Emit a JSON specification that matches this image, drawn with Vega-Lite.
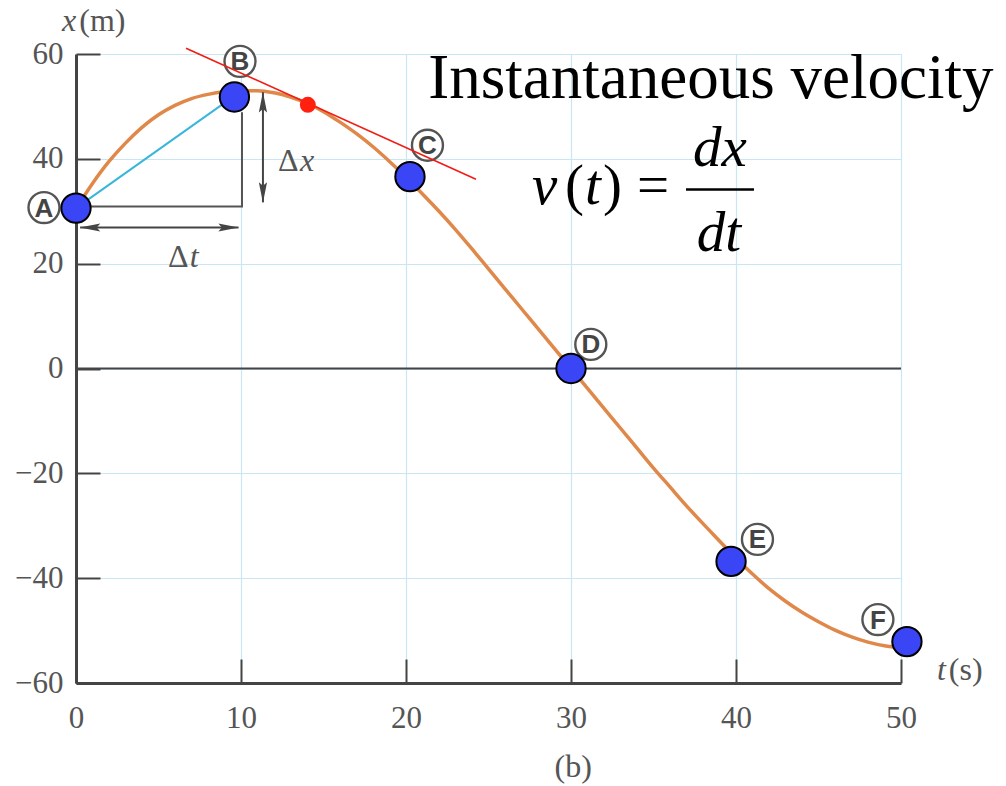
{
  "$schema": "https://vega.github.io/schema/vega-lite/v6.json",
  "width": 825,
  "height": 629,
  "autosize": {"type": "none"},
  "padding": {"left": 76, "top": 54, "right": 105, "bottom": 103},
  "background": "white",
  "config": {
    "view": {"stroke": null},
    "axis": {
      "title": null, "grid": true, "labelFlush": false, "labelOverlap": false,
      "gridColor": "#c9e6f4", "gridWidth": 1.2,
      "domainColor": "#444", "domainWidth": 3,
      "tickColor": "#444", "tickWidth": 2, "tickSize": -24,
      "labelFont": "Liberation Serif", "labelFontSize": 31, "labelColor": "#555"
    },
    "axisX": {"labelPadding": 44},
    "axisY": {"labelPadding": 37}
  },
  "layer": [
    {
      "data": {"values": [
        {"t": 0, "x": 30.5}, {"t": 1, "x": 35.3}, {"t": 2, "x": 39.5}, {"t": 3, "x": 43.0},
        {"t": 4, "x": 46.0}, {"t": 5, "x": 48.4}, {"t": 6, "x": 50.2}, {"t": 7, "x": 51.5},
        {"t": 8, "x": 52.3}, {"t": 9, "x": 52.8}, {"t": 10, "x": 53.0}, {"t": 11, "x": 53.0},
        {"t": 12, "x": 52.6}, {"t": 13, "x": 51.8}, {"t": 14, "x": 50.6}, {"t": 15, "x": 49.0},
        {"t": 16, "x": 47.0}, {"t": 17, "x": 44.8}, {"t": 18, "x": 42.3}, {"t": 19, "x": 39.5},
        {"t": 20, "x": 36.5}, {"t": 21, "x": 33.3}, {"t": 22, "x": 30.0}, {"t": 23, "x": 26.5},
        {"t": 24, "x": 22.8}, {"t": 25, "x": 19.0}, {"t": 26, "x": 15.2}, {"t": 27, "x": 11.4},
        {"t": 28, "x": 7.6}, {"t": 29, "x": 3.8}, {"t": 30, "x": 0.0}, {"t": 31, "x": -3.8},
        {"t": 32, "x": -7.6}, {"t": 33, "x": -11.4}, {"t": 34, "x": -15.2}, {"t": 35, "x": -19.0},
        {"t": 36, "x": -22.6}, {"t": 37, "x": -26.2}, {"t": 38, "x": -29.6}, {"t": 39, "x": -32.9},
        {"t": 40, "x": -36.2}, {"t": 41, "x": -39.2}, {"t": 42, "x": -42.0}, {"t": 43, "x": -44.4},
        {"t": 44, "x": -46.5}, {"t": 45, "x": -48.3}, {"t": 46, "x": -49.9}, {"t": 47, "x": -51.2},
        {"t": 48, "x": -52.2}, {"t": 49, "x": -52.9}, {"t": 50, "x": -53.3}
      ]},
      "mark": {"type": "line", "color": "#e0884a", "strokeWidth": 3.5, "interpolate": "monotone"},
      "encoding": {
        "x": {
          "field": "t", "type": "quantitative",
          "scale": {"domain": [0, 50], "nice": false, "zero": false},
          "axis": {"values": [0, 10, 20, 30, 40, 50]}
        },
        "y": {
          "field": "x", "type": "quantitative",
          "scale": {"domain": [-60, 60], "nice": false, "zero": false},
          "axis": {"values": [-60, -40, -20, 0, 20, 40, 60]}
        }
      }
    },
    {
      "data": {"values": [{"x": 0}]},
      "mark": {"type": "rule", "color": "#444", "strokeWidth": 2},
      "encoding": {"y": {"field": "x", "type": "quantitative"}}
    },
    {
      "data": {"values": [{"t": 0, "x": 30.6}, {"t": 9.6, "x": 52.0}]},
      "mark": {"type": "line", "color": "#3ab6da", "strokeWidth": 2},
      "encoding": {"x": {"field": "t", "type": "quantitative"}, "y": {"field": "x", "type": "quantitative"}}
    },
    {
      "data": {"values": [{"t": 0, "x": 30.9, "o": 1}, {"t": 10.06, "x": 30.9, "o": 2}, {"t": 10.06, "x": 48.9, "o": 3}]},
      "mark": {"type": "line", "color": "#555", "strokeWidth": 2},
      "encoding": {"x": {"field": "t", "type": "quantitative"}, "y": {"field": "x", "type": "quantitative"}, "order": {"field": "o"}}
    },
    {
      "data": {"values": [
        {"t": 11.33, "x": 52.7, "t2": 11.33, "x2": 31.7},
        {"t": 0.25, "x": 26.9, "t2": 9.85, "x2": 26.9}
      ]},
      "mark": {"type": "rule", "color": "#444", "strokeWidth": 2},
      "encoding": {
        "x": {"field": "t", "type": "quantitative"}, "y": {"field": "x", "type": "quantitative"},
        "x2": {"field": "t2"}, "y2": {"field": "x2"}
      }
    },
    {
      "data": {"values": [
        {"t": 11.33, "x": 50.8, "shape": "M0,-1L-0.4,1L0,0.65L0.4,1Z"},
        {"t": 11.33, "x": 33.6, "shape": "M0,1L-0.4,-1L0,-0.65L0.4,-1Z"},
        {"t": 0.85, "x": 26.9, "shape": "M-1,0L1,-0.4L0.65,0L1,0.4Z"},
        {"t": 9.25, "x": 26.9, "shape": "M1,0L-1,-0.4L-0.65,0L-1,0.4Z"}
      ]},
      "mark": {"type": "point", "filled": true, "color": "#444", "size": 420, "opacity": 1},
      "encoding": {
        "x": {"field": "t", "type": "quantitative"}, "y": {"field": "x", "type": "quantitative"},
        "shape": {"field": "shape", "type": "nominal", "scale": null}
      }
    },
    {
      "data": {"values": [
        {"t": -1.94, "x": 30.7, "label": "A"}, {"t": 9.94, "x": 58.6, "label": "B"},
        {"t": 21.3, "x": 42.6, "label": "C"}, {"t": 31.2, "x": 4.6, "label": "D"},
        {"t": 41.3, "x": -32.6, "label": "E"}, {"t": 48.6, "x": -47.9, "label": "F"}
      ]},
      "layer": [
        {
          "mark": {"type": "point", "shape": "circle", "filled": true, "fill": "white", "stroke": "#555", "strokeWidth": 2.4, "size": 960, "opacity": 1},
          "encoding": {"x": {"field": "t", "type": "quantitative"}, "y": {"field": "x", "type": "quantitative"}}
        },
        {
          "mark": {"type": "text", "font": "Liberation Sans", "fontWeight": "bold", "fontSize": 26, "color": "#444", "baseline": "middle", "align": "center", "dy": 1},
          "encoding": {"x": {"field": "t", "type": "quantitative"}, "y": {"field": "x", "type": "quantitative"}, "text": {"field": "label"}}
        }
      ]
    },
    {
      "data": {"values": [{"t": 6.67, "x": 61.1}, {"t": 24.24, "x": 36.1}]},
      "mark": {"type": "line", "color": "#f21c14", "strokeWidth": 1.6, "clip": false},
      "encoding": {"x": {"field": "t", "type": "quantitative"}, "y": {"field": "x", "type": "quantitative"}}
    },
    {
      "data": {"values": [
        {"t": 0, "x": 30.6, "label": "A"}, {"t": 9.6, "x": 51.8, "label": "B"},
        {"t": 20.24, "x": 36.6, "label": "C"}, {"t": 30, "x": 0, "label": "D"},
        {"t": 39.7, "x": -36.8, "label": "E"}, {"t": 50.36, "x": -52.1, "label": "F"}
      ]},
      "mark": {"type": "point", "shape": "circle", "filled": true, "fill": "#3a46f6", "stroke": "#000", "strokeWidth": 2, "size": 860, "opacity": 1},
      "encoding": {"x": {"field": "t", "type": "quantitative"}, "y": {"field": "x", "type": "quantitative"}}
    },
    {
      "data": {"values": [{"t": 14.05, "x": 50.3}]},
      "mark": {"type": "point", "shape": "circle", "filled": true, "fill": "#ff2010", "size": 254, "opacity": 1},
      "encoding": {"x": {"field": "t", "type": "quantitative"}, "y": {"field": "x", "type": "quantitative"}}
    },
    {
      "data": {"values": [{"t": 38.48, "x": 51.7, "text": "Instantaneous velocity"}]},
      "mark": {"type": "text", "font": "Liberation Serif", "fontSize": 63, "color": "#000", "align": "center", "baseline": "alphabetic"},
      "encoding": {"x": {"field": "t", "type": "quantitative"}, "y": {"field": "x", "type": "quantitative"}, "text": {"field": "text"}}
    },
    {
      "data": {"values": [
        {"t": 27.64, "x": 31.3, "text": "v", "align": "left"},
        {"t": 30.85, "x": 31.3, "text": "t", "align": "left"},
        {"t": 39.03, "x": 38.55, "text": "dx", "align": "center"},
        {"t": 38.97, "x": 22.33, "text": "dt", "align": "center"}
      ]},
      "mark": {"type": "text", "font": "Liberation Serif", "fontStyle": "italic", "fontSize": 57, "color": "#000", "baseline": "alphabetic", "align": {"expr": "datum.align"}},
      "encoding": {"x": {"field": "t", "type": "quantitative"}, "y": {"field": "x", "type": "quantitative"}, "text": {"field": "text"}}
    },
    {
      "data": {"values": [
        {"t": 29.64, "x": 31.3, "text": "("},
        {"t": 31.94, "x": 31.3, "text": ")"},
        {"t": 34.0, "x": 31.3, "text": "="}
      ]},
      "mark": {"type": "text", "font": "Liberation Serif", "fontSize": 57, "color": "#000", "baseline": "alphabetic", "align": "left"},
      "encoding": {"x": {"field": "t", "type": "quantitative"}, "y": {"field": "x", "type": "quantitative"}, "text": {"field": "text"}}
    },
    {
      "data": {"values": [{"t": 36.97, "t2": 41.09, "x": 34.16}]},
      "mark": {"type": "rule", "color": "#000", "strokeWidth": 2.5},
      "encoding": {"x": {"field": "t", "type": "quantitative"}, "x2": {"field": "t2"}, "y": {"field": "x", "type": "quantitative"}}
    },
    {
      "data": {"values": [
        {"t": -0.85, "x": 64.3, "text": "x"},
        {"t": 52.18, "x": -59.35, "text": "t"},
        {"t": 13.58, "x": 37.6, "text": "x"},
        {"t": 6.9, "x": 19.3, "text": "t"}
      ]},
      "mark": {"type": "text", "font": "Liberation Serif", "fontStyle": "italic", "fontSize": 32, "color": "#555", "baseline": "alphabetic", "align": "left"},
      "encoding": {"x": {"field": "t", "type": "quantitative"}, "y": {"field": "x", "type": "quantitative"}, "text": {"field": "text"}}
    },
    {
      "data": {"values": [
        {"t": 0.2, "x": 64.3, "text": "(m)"},
        {"t": 52.9, "x": -59.35, "text": "(s)"},
        {"t": 12.24, "x": 37.6, "text": "Δ"},
        {"t": 5.58, "x": 19.3, "text": "Δ"},
        {"t": 29.0, "x": -78.0, "text": "(b)"}
      ]},
      "mark": {"type": "text", "font": "Liberation Serif", "fontSize": 32, "color": "#555", "baseline": "alphabetic", "align": "left"},
      "encoding": {"x": {"field": "t", "type": "quantitative"}, "y": {"field": "x", "type": "quantitative"}, "text": {"field": "text"}}
    }
  ]
}
